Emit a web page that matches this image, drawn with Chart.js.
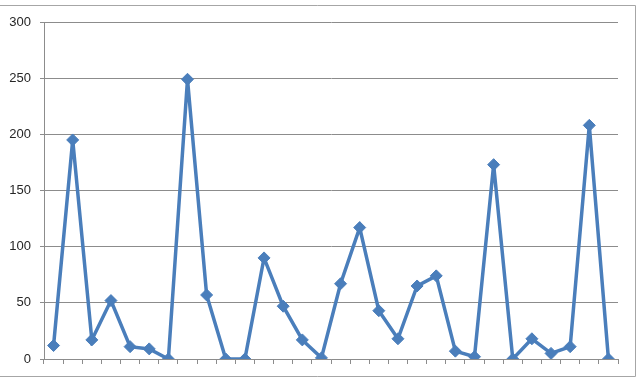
<!DOCTYPE html>
<html>
<head>
<meta charset="utf-8">
<script src="https://cdn.jsdelivr.net/npm/chart.js@4/dist/chart.umd.min.js"></script>
<style>
  html, body { margin: 0; padding: 0; background: #fff; }
  #wrap { width: 636px; height: 378px; position: relative; }
</style>
</head>
<body>
<div id="wrap"><canvas id="chart" width="636" height="378"></canvas></div>
<script>
// values, one per category
const categories = Array.from({ length: 30 }, (_, i) => String(i + 1));
const seriesValues = [12, 195, 17, 52, 11, 9, 0, 249, 57, 0, 0, 90, 47, 17, 1, 67, 117, 43, 18, 65, 74, 7, 2, 173, 0, 18, 5, 11, 208, 0];
const yTicks = [0, 50, 100, 150, 200, 250, 300];

const gray = '#8c8c8c';
const blue = '#4a7ebb';

// outer frame like the spreadsheet chart box
const frame = {
  id: 'frame',
  beforeDraw(chart) {
    const ctx = chart.ctx;
    ctx.save();
    ctx.strokeStyle = '#a6a6a6';
    ctx.lineWidth = 1;
    ctx.beginPath();
    ctx.moveTo(0, 5.5);
    ctx.lineTo(635.5, 5.5);
    ctx.lineTo(635.5, 376.5);
    ctx.lineTo(0, 376.5);
    ctx.stroke();
    ctx.restore();
  }
};

new Chart(document.getElementById('chart'), {
  type: 'line',
  data: {
    labels: categories,
    datasets: [{
      data: seriesValues,
      borderColor: blue,
      backgroundColor: blue,
      borderWidth: 3.5,
      pointStyle: 'rectRot',
      pointRadius: 6,
      pointBorderWidth: 1,
      tension: 0
    }]
  },
  options: {
    responsive: false,
    animation: false,
    layout: { padding: { left: 0, right: 18, top: 22, bottom: 0 } },
    plugins: { legend: { display: false }, tooltip: { enabled: false } },
    scales: {
      x: {
        offset: true,
        grid: { display: true, drawOnChartArea: false, offset: true, color: gray, tickLength: 5 },
        border: { color: gray },
        ticks: { display: false },
        afterFit(scale) { scale.height = 19; }
      },
      y: {
        min: 0,
        max: 300,
        afterBuildTicks(scale) { scale.ticks = yTicks.map(v => ({ value: v })); },
        grid: { color: gray, tickLength: 4 },
        border: { color: gray },
        ticks: {
          padding: 9,
          color: '#262626',
          font: { family: 'Liberation Sans', size: 13 }
        },
        afterFit(scale) { scale.width = 44; }
      }
    }
  },
  plugins: [frame]
});
</script>
</body>
</html>
